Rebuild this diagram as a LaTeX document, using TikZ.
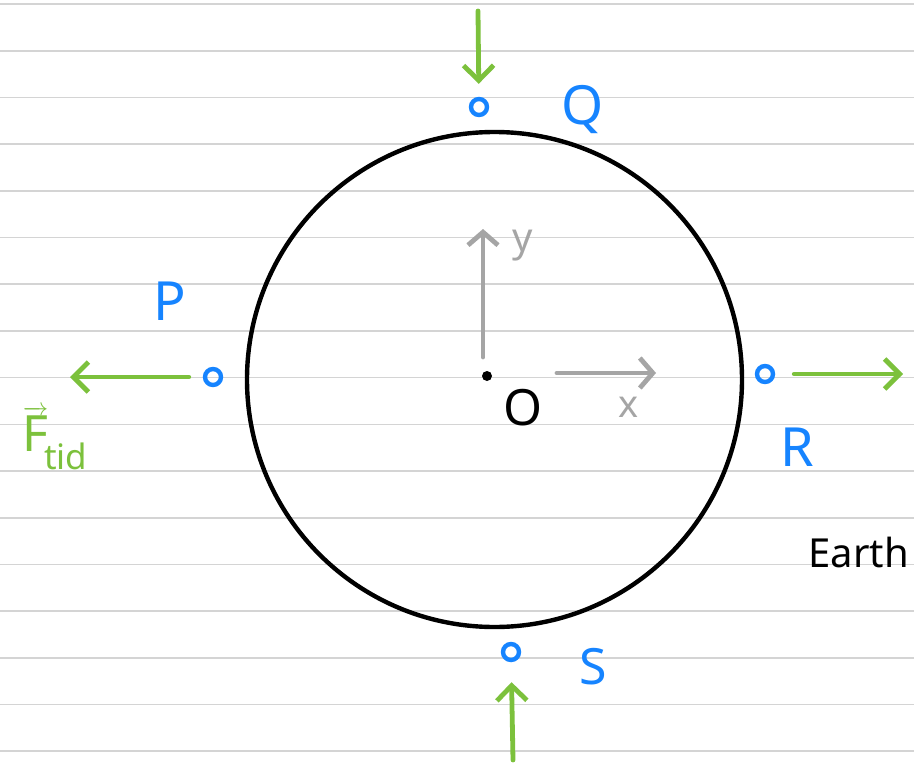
\documentclass[tikz,border=0pt]{standalone}
\usepackage{amsmath}
\usepackage{fontspec}
\setmainfont{Noto Sans}
\usetikzlibrary{arrows.meta}

\definecolor{ptblue}{RGB}{22,132,255}
\definecolor{tidgreen}{RGB}{124,193,60}
\definecolor{axisgray}{RGB}{165,165,165}
\definecolor{rulegray}{RGB}{212,212,212}

\begin{document}
\begin{tikzpicture}[
  x=1pt, y=-1pt,
  rule/.style={line width=1.6pt, draw=rulegray},
  rim/.style={circle, draw=black, line width=4.4pt, minimum size=495pt, inner sep=0pt},
  point/.style={circle, draw=ptblue, line width=4.4pt, minimum size=16pt, inner sep=0pt},
  centre/.style={circle, fill=black, inner sep=0pt, minimum size=10pt},
  force/.style={line width=4.8pt, draw=tidgreen, line cap=round,
    -{Straight Barb[length=15pt, width=30pt]}},
  axis/.style={line width=4.8pt, draw=axisgray, line cap=round,
    -{Straight Barb[length=13pt, width=30pt]}},
  label/.style={font=\fontsize{54}{54}\selectfont, text=ptblue},
]

% Paper
\path[fill=white, use as bounding box] (0,0) rectangle (914,763);
\foreach \k in {0,...,16} {
  \draw[rule] (0,{4+46.7*\k}) -- (914,{4+46.7*\k});
}

% Earth
\node[rim] (earth) at (494.5,379.5) {};
\node[centre] (o) at (487,376) {};
\node[font=\fontsize{50}{50}\selectfont] (olab) at (523,408) {O};
\node[anchor=base west, font=\fontsize{40}{40}\selectfont] (elab) at (805,567) {Earth};

% Axes
\coordinate (ytip) at (483,229);
\coordinate (xtip) at (656,373);
\draw[axis] (o) ++(-4,-19) -- (ytip);
\draw[axis] (o) ++(70,-3) -- (xtip);
\node[font=\fontsize{40}{40}\selectfont, text=axisgray] (ylab) at (523,246) {y};
\node[font=\fontsize{38}{38}\selectfont, text=axisgray] (xlab) at (629,407) {x};

% Points
\node[point] (P) at (213,377) {};
\node[point] (Q) at (479,107) {};
\node[point] (R) at (765,374) {};
\node[point] (S) at (511,652) {};
\node[label] (plab) at (170,301) {P};
\node[label] (qlab) at (583,110) {Q};
\node[label] (rlab) at (797,447) {R};
\node[label, font=\fontsize{50}{50}\selectfont] (slab) at (593,667) {S};

% Tidal forces
\coordinate (qin) at (478,11);
\coordinate (pout) at (70,377);
\coordinate (rout) at (903,374);
\coordinate (sin) at (513,760);
\draw[force, shorten >=13pt] (qin) -- (Q);
\draw[force, shorten <=14pt] (P) -- (pout);
\draw[force, shorten <=19pt] (R) -- (rout);
\draw[force, shorten >=20pt] (sin) -- (S);
\node[text=tidgreen, font=\fontsize{50}{50}\selectfont] (flab) at (55,438)
  {$\overrightarrow{\text{F}}_{\!\text{tid}}$};

\end{tikzpicture}
\end{document}
